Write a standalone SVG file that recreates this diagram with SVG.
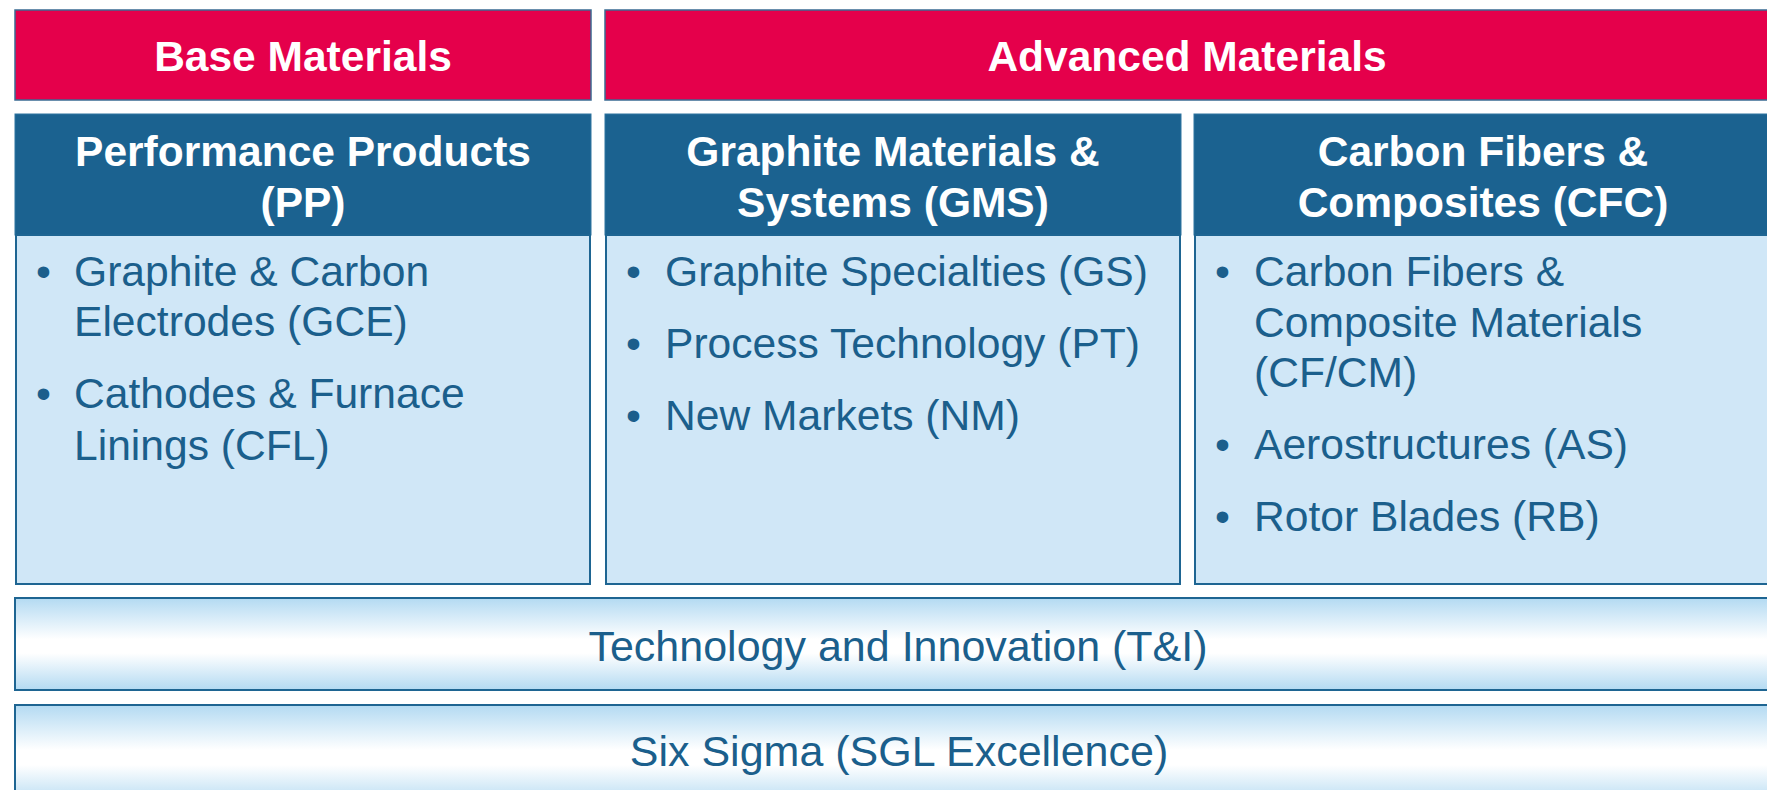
<svg xmlns="http://www.w3.org/2000/svg" width="1767" height="790" viewBox="0 0 1767 790">
<defs>
<linearGradient id="band" x1="0" y1="0" x2="0" y2="1">
<stop offset="0" stop-color="#b3daf2"/>
<stop offset="0.45" stop-color="#ffffff"/>
<stop offset="0.6" stop-color="#ffffff"/>
<stop offset="1" stop-color="#b3daf2"/>
</linearGradient>
<style>
.red{fill:#e5004b;stroke:#3a6b93;stroke-width:1.5}
.hdr{fill:#1b6290;stroke:#2e74a0;stroke-width:1}
.body{fill:#d0e7f7;stroke:#1e6592;stroke-width:2}
.band{fill:url(#band);stroke:#1e6592;stroke-width:2}
.tw{font-family:"Liberation Sans",Arial,sans-serif;font-weight:bold;font-size:42.5px;fill:#ffffff;text-anchor:middle}
.tb{font-family:"Liberation Sans",Arial,sans-serif;font-size:42.6px;fill:#1b5f8c}
.tc{font-family:"Liberation Sans",Arial,sans-serif;font-size:43px;fill:#1b5f8c;text-anchor:middle}
</style>
</defs>
<rect width="1767" height="790" fill="#ffffff"/>
<g id="base-materials">
<rect class="red" x="15" y="10" width="576" height="90"/>
<text class="tw" x="303" y="71">Base Materials</text>
</g>
<g id="advanced-materials">
<rect class="red" x="605" y="10" width="1170" height="90"/>
<text class="tw" x="1187" y="71">Advanced Materials</text>
</g>
<g id="pp">
<rect class="hdr" x="15" y="114" width="576" height="121"/>
<text class="tw" x="303" y="166">Performance Products</text>
<text class="tw" x="303" y="217">(PP)</text>
<rect class="body" x="16" y="235" width="574" height="349"/>
<text class="tb" x="36" y="286">•</text>
<text class="tb" x="74" y="286">Graphite &amp; Carbon</text>
<text class="tb" x="74" y="336">Electrodes (GCE)</text>
<text class="tb" x="36" y="408">•</text>
<text class="tb" x="74" y="408">Cathodes &amp; Furnace</text>
<text class="tb" x="74" y="460">Linings (CFL)</text>
</g>
<g id="gms">
<rect class="hdr" x="605" y="114" width="576" height="121"/>
<text class="tw" x="893" y="166">Graphite Materials &amp;</text>
<text class="tw" x="893" y="217">Systems (GMS)</text>
<rect class="body" x="606" y="235" width="574" height="349"/>
<text class="tb" x="626" y="286">•</text>
<text class="tb" x="665" y="286">Graphite Specialties (GS)</text>
<text class="tb" x="626" y="358">•</text>
<text class="tb" x="665" y="358">Process Technology (PT)</text>
<text class="tb" x="626" y="430">•</text>
<text class="tb" x="665" y="430">New Markets (NM)</text>
</g>
<g id="cfc">
<rect class="hdr" x="1194" y="114" width="580" height="121"/>
<text class="tw" x="1483" y="166">Carbon Fibers &amp;</text>
<text class="tw" x="1483" y="217">Composites (CFC)</text>
<rect class="body" x="1195" y="235" width="580" height="349"/>
<text class="tb" x="1215" y="286">•</text>
<text class="tb" x="1254" y="286">Carbon Fibers &amp;</text>
<text class="tb" x="1254" y="337">Composite Materials</text>
<text class="tb" x="1254" y="387">(CF/CM)</text>
<text class="tb" x="1215" y="459">•</text>
<text class="tb" x="1254" y="459">Aerostructures (AS)</text>
<text class="tb" x="1215" y="531">•</text>
<text class="tb" x="1254" y="531">Rotor Blades (RB)</text>
</g>
<g id="ti">
<rect class="band" x="15" y="598" width="1760" height="92"/>
<text class="tc" x="898" y="661">Technology and Innovation (T&amp;I)</text>
</g>
<g id="six-sigma">
<rect class="band" x="15" y="705" width="1760" height="100"/>
<text class="tc" x="899" y="766">Six Sigma (SGL Excellence)</text>
</g>
<g id="connectors"/>
</svg>
